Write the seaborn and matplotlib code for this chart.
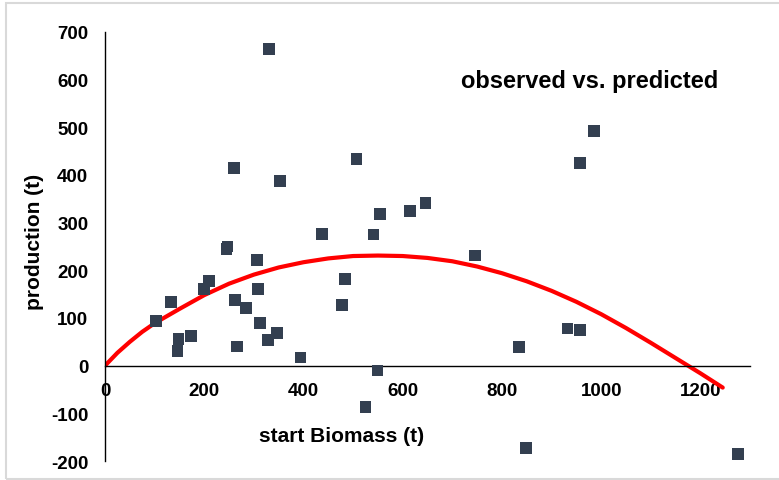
#!/usr/bin/env python3
# -*- coding: utf-8 -*-
"""Observed vs. predicted production against start biomass."""

import matplotlib
matplotlib.use("Agg")
import matplotlib.pyplot as plt
import pandas as pd
import seaborn as sns
from matplotlib.patches import Rectangle

# observed points (start biomass, production)
biomass_obs = [102, 133, 148, 146, 173, 199, 210, 245, 247, 262, 266, 284,
               306, 308, 313, 329, 347, 394, 438, 477, 483, 541, 549, 525,
               331, 260, 353, 507, 555, 615, 646, 985, 957, 746, 835, 932,
               957, 848, 1275]
production_obs = [93, 134, 56, 31, 63, 161, 177, 245, 250, 137, 40, 121,
                  222, 161, 90, 54, 69, 17, 277, 128, 182, 275, -10, -87,
                  664, 414, 387, 434, 318, 325, 341, 492, 425, 231, 39, 78,
                  75, -173, -185]

# predicted curve, sampled off the red line
biomass_pred = [0, 25, 50, 75, 100, 150, 200, 250, 300, 350, 400, 450, 500,
                550, 600, 650, 700, 750, 800, 850, 900, 950, 1000, 1050,
                1100, 1150, 1200, 1245]
production_pred = [0, 27, 50, 71, 89, 119, 148, 172, 191, 206, 217, 225, 230,
                   231, 230, 226, 219, 208, 194, 177, 157, 134, 108, 79,
                   48, 16, -16, -46]

X_TICKS = [0, 200, 400, 600, 800, 1000, 1200]
Y_TICKS = [-200, -100, 0, 100, 200, 300, 400, 500, 600, 700]


def main() -> None:
    sns.set_style("white")
    plt.rcParams["font.family"] = ["Liberation Sans", "DejaVu Sans"]
    plt.rcParams["axes.unicode_minus"] = False
    plt.rcParams["text.color"] = "black"
    plt.rcParams["axes.labelcolor"] = "black"
    plt.rcParams["xtick.color"] = "black"
    plt.rcParams["ytick.color"] = "black"

    obs = pd.DataFrame({"biomass": biomass_obs, "production": production_obs})
    pred = pd.DataFrame({"biomass": biomass_pred, "production": production_pred})

    fig = plt.figure(figsize=(7.79, 4.81), dpi=100)
    ax = fig.add_axes([0.1348, 0.0395, 0.828, 0.8919])

    sns.lineplot(data=pred, x="biomass", y="production", color="#ff0000",
                 linewidth=3.0, ax=ax, zorder=2)
    sns.scatterplot(data=obs, x="biomass", y="production", marker="s", s=72,
                    color="#333f50", edgecolor="none", ax=ax, zorder=3)

    ax.set_xlim(0, 1300)
    ax.set_ylim(-200, 700)
    ax.set_xticks(X_TICKS)
    ax.set_yticks(Y_TICKS)

    # axis lines: y at x=0, x at y=0
    for side in ("top", "right"):
        ax.spines[side].set_visible(False)
    ax.spines["bottom"].set_position(("data", 0))
    for side in ("left", "bottom"):
        ax.spines[side].set_color("black")
        ax.spines[side].set_linewidth(1.0)

    ax.tick_params(axis="x", length=0, pad=12, labelsize=13.5)
    ax.tick_params(axis="y", length=0, pad=12, labelsize=13.5)
    for lbl in ax.get_xticklabels() + ax.get_yticklabels():
        lbl.set_fontweight("bold")

    ax.set_xlabel("start Biomass (t)", fontsize=15, fontweight="bold")
    ax.xaxis.set_label_coords(0.367, 0.059)
    ax.xaxis.label.set_va("center")
    ax.set_ylabel("production (t)", fontsize=15, fontweight="bold")
    ax.yaxis.set_label_coords(-0.109, 0.512)
    ax.yaxis.label.set_va("center")

    ax.text(0.751, 0.888, "observed vs. predicted", transform=ax.transAxes,
            ha="center", va="center", fontsize=17, fontweight="bold")

    # light frame round the chart
    fig.patches.append(Rectangle((6 / 779, 1 / 481), 1.0, 476 / 481,
                                 transform=fig.transFigure, fill=False,
                                 edgecolor="#d9d9d9", linewidth=1.5))

    fig.savefig("out.png", dpi=100)


if __name__ == "__main__":
    main()
